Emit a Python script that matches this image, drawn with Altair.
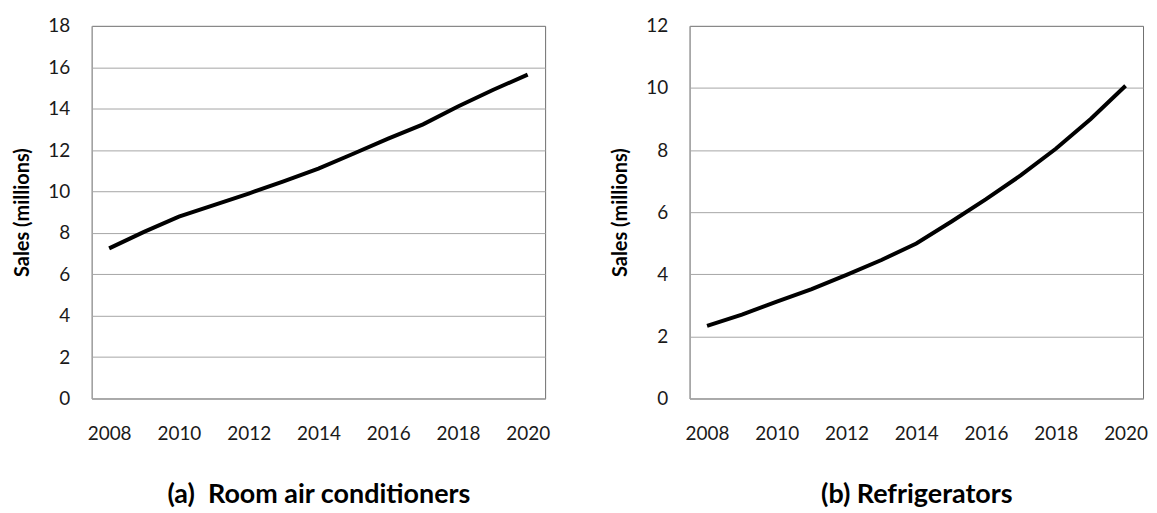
import altair as alt
import pandas as pd

years = list(range(2008, 2021))
ac_sales = [7.25, 8.05, 8.78, 9.34, 9.9, 10.49, 11.1, 11.82, 12.55, 13.24, 14.1, 14.9, 15.64]
fridge_sales = [2.34, 2.7, 3.12, 3.52, 3.98, 4.46, 4.99, 5.69, 6.42, 7.19, 8.04, 9.0, 10.07]
tick_years = [2008, 2010, 2012, 2014, 2016, 2018, 2020]
ac_ticks = list(range(0, 19, 2))
fridge_ticks = list(range(0, 13, 2))

FONT = "Lato"
GRID = "#a6a6a6"
BORDER = "#6e6e6e"


def panel(values, ymax, yticks, title):
    df = pd.DataFrame({"year": years, "sales": values})
    return alt.Chart(df).mark_line(color="black", strokeWidth=4).encode(
        x=alt.X("year:O", scale=alt.Scale(type="point", padding=0.5),
                axis=alt.Axis(values=tick_years, labelAngle=0, ticks=False,
                              labelPadding=26, labelFontSize=19, labelFont=FONT,
                              labelColor="#1a1a1a", domainColor=GRID,
                              title=title, titleFont=FONT, titleFontSize=27,
                              titleFontWeight="bold", titleColor="black",
                              titlePadding=38, grid=False)),
        y=alt.Y("sales:Q", scale=alt.Scale(domain=[0, ymax], nice=False),
                axis=alt.Axis(values=yticks, ticks=False, labelPadding=22,
                              labelFontSize=19, labelFont=FONT, labelColor="#1a1a1a",
                              domainColor=GRID, gridColor=GRID,
                              gridOpacity={"condition": {"test": f"datum.value >= {ymax}", "value": 0}, "value": 1},
                              title="Sales (millions)", titleFont=FONT,
                              titleFontSize=20, titleFontWeight="bold",
                              titleColor="black", titlePadding=15)),
    ).properties(width=455, height=374)


left = panel(ac_sales, 18, ac_ticks, "(a)\u00a0\u00a0Room air conditioners")
right = panel(fridge_sales, 12, fridge_ticks, "(b) Refrigerators")

chart = alt.hconcat(left, right, spacing=59).properties(
    padding={"left": 4, "top": 7, "right": 0, "bottom": 0}
).configure_view(stroke=BORDER, strokeWidth=1)

chart.save("out.html", embed_options={"renderer": "svg", "actions": False})
